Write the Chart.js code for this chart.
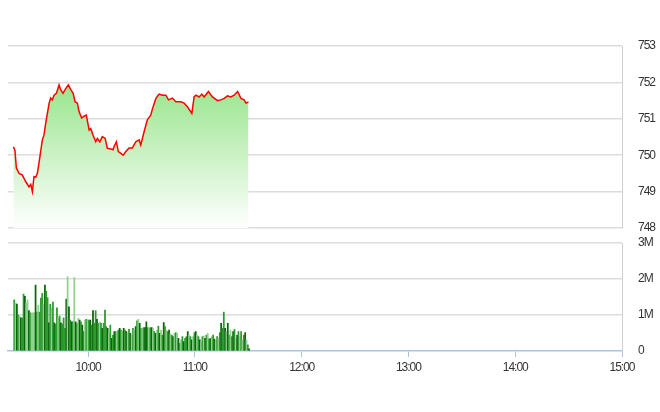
<!DOCTYPE html>
<html><head><meta charset="utf-8">
<script src="https://cdn.jsdelivr.net/npm/chart.js@4.4.1/dist/chart.umd.min.js"></script>
<style>
html,body{margin:0;padding:0;background:#fff;}
#wrap{position:relative;width:660px;height:412px;overflow:hidden;}
#price{position:absolute;left:0;top:0;}
#vol{position:absolute;left:0;top:230px;}
</style></head><body>
<div id="wrap">
<canvas id="price" width="660" height="240"></canvas>
<canvas id="vol" width="660" height="182"></canvas>
</div>
<script>
// minutes after 09:00
const priceMinutes = [18.0,18.9,19.7,21.2,23.0,25.0,26.8,27.8,28.7,29.6,30.6,31.5,32.4,34.3,35.2,36.2,38.1,39.0,39.9,40.9,42.2,43.7,44.6,45.9,47.4,48.9,50.3,51.6,52.7,54.0,54.9,56.4,57.7,59.0,60.6,61.5,62.8,64.3,65.2,66.6,68.0,69.6,70.8,72.8,74.0,74.6,75.9,77.0,78.4,79.7,81.2,83.0,84.9,86.8,88.7,89.6,91.5,93.3,95.2,96.2,98.1,99.9,101.8,103.7,105.2,107.4,109.3,112.1,114.0,115.8,118.3,119.6,120.6,122.4,123.9,125.2,127.6,129.9,132.7,134.6,136.5,138.3,140.2,142.1,144.0,145.9,147.7,148.7,150.1];
const priceValues = [750.23,750.14,749.65,749.5,749.46,749.27,749.13,749.2,749.0,749.41,749.4,749.5,749.78,750.42,750.55,750.88,751.43,751.57,751.52,751.65,751.7,751.93,751.8,751.7,751.83,751.93,751.8,751.7,751.47,751.43,751.2,751.02,751.07,751.1,750.69,750.73,750.55,750.37,750.46,750.37,750.51,750.46,750.19,750.17,750.15,750.24,750.37,750.1,750.05,750.0,750.1,750.2,750.2,750.37,750.42,750.28,750.65,750.97,751.1,751.28,751.56,751.68,751.65,751.65,751.52,751.57,751.47,751.47,751.43,751.33,751.15,751.61,751.65,751.6,751.68,751.6,751.75,751.6,751.5,751.52,751.56,751.63,751.6,751.65,751.75,751.56,751.52,751.43,751.46];
const priceTicks = [748,749,750,751,752,753];

// volume bars (millions of shares), sampled every 45 seconds from 09:18:30
const volumeStartMinute = 18.5;
const volumeStepMinutes = 0.75;
const volumeMillions = [
1.42,1.33,1.30,1.00,0.97,0.92,0.92,1.58,1.52,1.33,1.42,1.12,1.06,1.06,1.06,1.06,1.83,1.08,1.27,1.08,1.47,1.60,1.30,1.83,1.66,1.48,0.78,1.30,1.20,1.36,0.78,0.75,1.20,0.92,0.97,0.78,0.75,0.92,
0.63,1.44,2.06,1.23,0.86,0.81,0.81,2.04,0.81,0.77,0.91,0.86,0.81,0.72,0.54,0.86,0.88,0.86,0.86,0.86,0.72,1.12,0.77,1.12,0.88,0.77,0.81,0.77,0.63,0.77,1.14,0.68,0.63,0.49,0.72,0.35,0.44,0.54,0.54,0.54,0.58,0.63,0.58,0.54,0.63,
0.58,0.54,0.49,0.60,0.49,0.44,0.63,0.58,0.68,0.84,0.88,0.77,0.63,0.63,0.65,0.65,0.81,0.65,0.63,0.65,0.65,0.63,0.54,0.49,0.58,0.69,0.49,0.58,0.44,0.79,0.68,0.58,0.54,0.58,0.47,0.44,0.40,0.49,0.51,0.49,0.35,0.21,0.31,0.40,0.26,0.35,
0.40,0.54,0.44,0.40,0.31,0.40,0.51,0.54,0.44,0.40,0.31,0.26,0.40,0.42,0.35,0.44,0.49,0.33,0.35,0.40,0.44,0.33,0.29,0.40,0.35,0.51,0.77,0.63,1.08,0.63,0.54,0.77,0.44,0.58,0.40,0.54,0.60,0.35,0.44,0.54,0.40,0.54,0.31,0.44,0.51,0.31,0.17,0.06];
// trade class per bar: d = sell-dominant, m = buy-dominant, l = neutral
const volumeClass = [
'm','l','d','m','l','d','m','m','d','l','l','d','m','l','l','l','d','m','l','m','m','m','l','d','m','m','d','m','l','m','d','m','m','l','m','d','m','m',
'm','d','l','d','m','d','m','l','d','m','l','d','m','d','m','l','m','l','m','d','m','d','m','m','d','m','l','m','d','m','m','m','d','l','m','d','m','d','m','l','m','d','m','l','d',
'm','d','l','m','d','l','m','l','d','m','l','d','m','l','m','d','d','m','l','m','d','l','m','d','l','m','d','l','m','d','m','l','m','d','l','m','d','l','m','l','d','m','l','m','d','m',
'm','d','l','m','d','l','m','d','l','m','d','l','m','l','d','m','l','m','d','l','m','d','l','m','l','m','d','m','m','d','l','d','m','l','m','d','m','l','d','m','l','m','l','m','d','l','m','d'];
const hourTicks = [60,120,180,240,300,360];
const volumeTicks = [0,1,2,3];

const classColor = {d:'#0a640a', m:'#2b9b2b', l:'#8fd18f'};
const labelFont = {family:"'Liberation Sans', Arial, sans-serif", size:12};
const labelColor = '#333333';
const gridColor = '#dcdcdc';
const axisBlue = '#a9c3e3';
const fixY = s => { s.width = 38; s.paddingTop = 0; s.paddingBottom = 0; };
const condensed = { id:'condensed', beforeDraw: c => { c.ctx.letterSpacing = '-1px'; } };

const priceChart = new Chart(document.getElementById('price'), {
  type:'line',
  plugins:[condensed],
  data:{datasets:[{
    data: priceMinutes.map((m,i)=>({x:m, y:priceValues[i]})),
    borderColor:'#ff0000', borderWidth:1.5, pointRadius:0, tension:0, fill:'start',
    backgroundColor: (ctx)=>{
      const a = ctx.chart.chartArea; if(!a) return 'rgba(0,0,0,0)';
      const g = ctx.chart.ctx.createLinearGradient(0,a.top,0,a.bottom);
      g.addColorStop(0,'rgba(125,222,110,1)');
      g.addColorStop(1,'rgba(255,255,255,1)');
      return g;
    }
  }]},
  options:{
    responsive:false, animation:false,
    layout:{padding:{left:8,right:0,top:46,bottom:12}},
    plugins:{legend:{display:false}, tooltip:{enabled:false}},
    scales:{
      x:{type:'linear', min:15, max:360, display:false},
      y:{position:'right', min:748, max:753,
        afterBuildTicks:s=>{s.ticks = priceTicks.map(v=>({value:v}));},
        afterFit:fixY,
        ticks:{padding:16, color:labelColor, font:labelFont},
        grid:{color:gridColor, lineWidth:1.5, drawTicks:false},
        border:{display:true, color:'#cfcfcf', width:1}
      }
    }
  }
});

const volChart = new Chart(document.getElementById('vol'), {
  type:'bar',
  plugins:[condensed],
  data:{datasets:[{
    data: volumeMillions.map((v,i)=>({x: volumeStartMinute + i*volumeStepMinutes, y:v})),
    backgroundColor: volumeClass.map(c=>classColor[c]),
    barThickness:1.1, borderWidth:0
  }]},
  options:{
    responsive:false, animation:false,
    layout:{padding:{left:8,right:0,top:13,bottom:31}},
    plugins:{legend:{display:false}, tooltip:{enabled:false}},
    scales:{
      x:{type:'linear', min:15, max:360, offset:false,
        afterBuildTicks:s=>{s.ticks = hourTicks.map(v=>({value:v}));},
        afterFit:s=>{s.height=30;},
        ticks:{autoSkip:false, maxRotation:0, padding:3, color:labelColor, font:labelFont,
          callback:v=>{const h=Math.floor(v/60)+9; return (h<10?'0':'')+h+':00';}},
        grid:{offset:false, drawOnChartArea:false, drawTicks:true, tickLength:6, color:axisBlue, lineWidth:1},
        border:{display:true, color:axisBlue, width:1.5}
      },
      y:{position:'right', min:0, max:3,
        afterBuildTicks:s=>{s.ticks = volumeTicks.map(v=>({value:v}));},
        afterFit:fixY,
        ticks:{padding:16, color:labelColor, font:labelFont, callback:v=> v===0 ? '0' : v+'M'},
        grid:{color:(c)=> (c.tick && c.tick.value===0) ? 'rgba(0,0,0,0)' : gridColor, lineWidth:1.5, drawTicks:false},
        border:{display:true, color:'#cfcfcf', width:1}
      }
    }
  }
});
</script>
</body></html>
